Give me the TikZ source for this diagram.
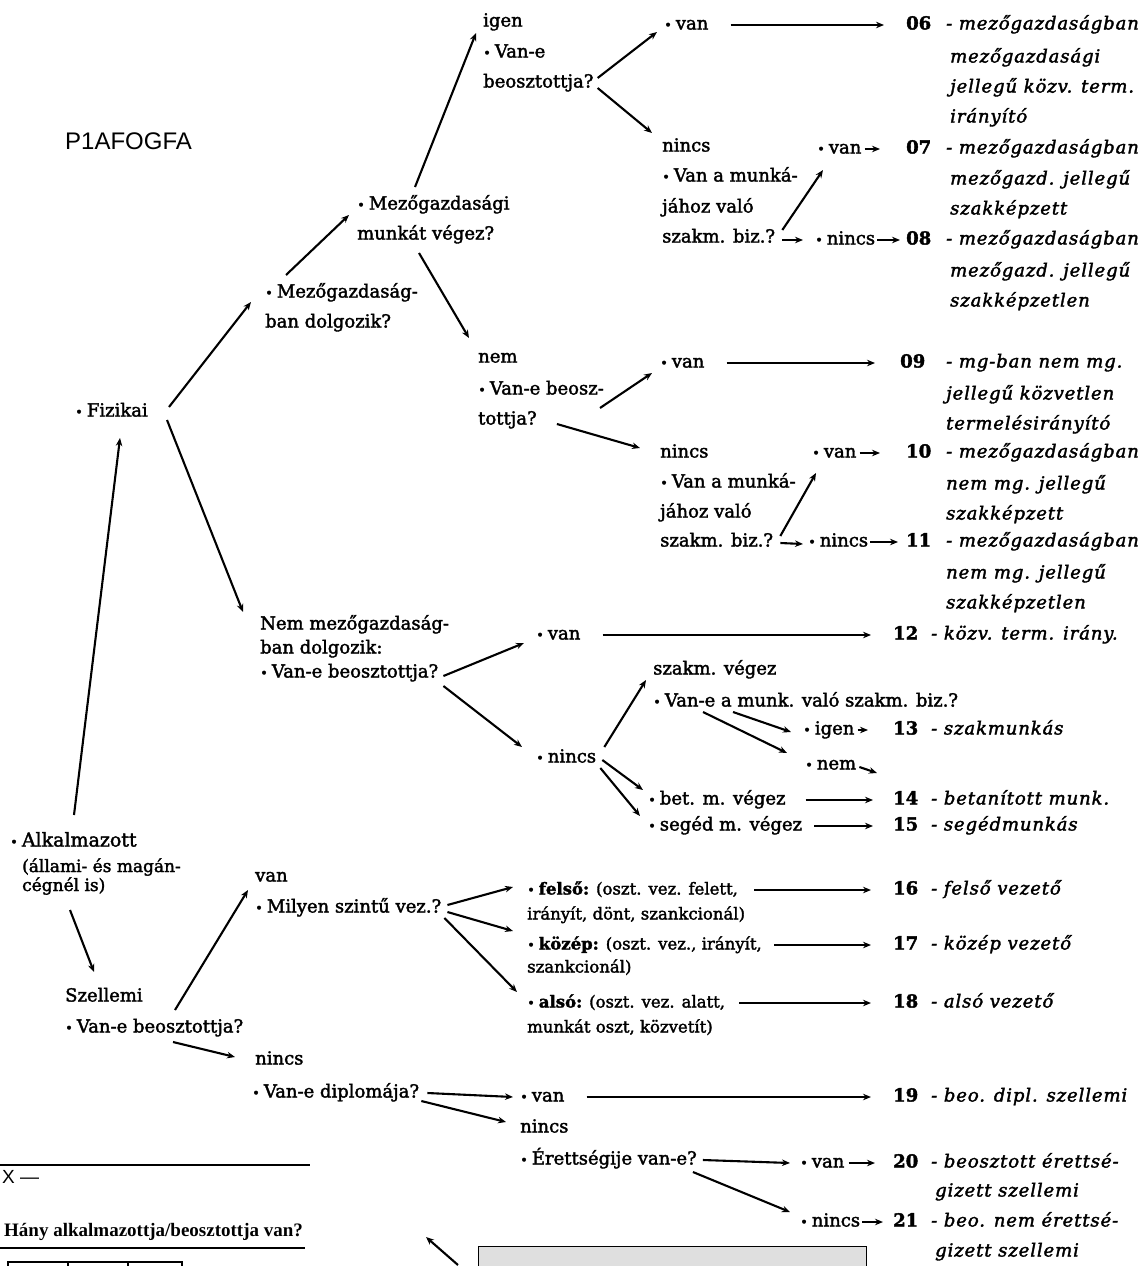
\documentclass[tikz,border=0pt]{standalone}
\usepackage{fontspec}
\setmainfont{DejaVu Serif}[FakeBold=2,ItalicFeatures={LetterSpace=5}]
\newfontfamily\sansf{Liberation Sans}
\newfontfamily\lserif{Liberation Serif}
\usetikzlibrary{arrows.meta}
\newcommand\mfont{\fontsize{18}{22}\selectfont}
\newcommand\bul{{\fontsize{13}{13}\selectfont •}\hspace{4pt}}
\begin{document}
\begin{tikzpicture}[x=1pt,y=-1pt,
  tx/.style={anchor=west,inner sep=0pt,text height=13pt,text depth=4pt,font=\mfont},
  sm/.style={tx,font=\fontsize{16.5}{20}\selectfont},
  par/.style={anchor=west,inner sep=0pt,text height=11pt,text depth=3pt,font=\fontsize{17}{18}\selectfont},
  num/.style={tx,font=\mfont\bfseries},
  dsc/.style={tx,font=\mfont\itshape},
  ar/.style={-{Stealth[length=8pt,width=6.5pt]},line width=2.1pt}]
\useasboundingbox (0,0) rectangle (1143,1266);

\node[tx,font=\sansf\fontsize{24}{24}\selectfont] (title) at (65,145) {P1AFOGFA};

% ---- top branch
\node[tx] (igen) at (483,22) {igen};
\node[tx] (vane1) at (483,53) {\bul Van-e};
\node[tx] (beo1) at (483,83) {beosztottja?};
\node[tx] (van06) at (664,25) {\bul van};
\node[num] (n06) at (906,25) {06};
\node[dsc] (d06a) at (946,25) {- mezőgazdaságban};
\node[dsc] (d06b) at (950,58) {mezőgazdasági};
\node[dsc] (d06c) at (950,88) {jellegű közv. term.};
\node[dsc] (d06d) at (950,118) {irányító};

\node[tx] (nincsA) at (662,147) {nincs};
\node[tx] (muA1) at (662,177) {\bul Van a munká-};
\node[tx] (muA2) at (662,208) {jához való};
\node[tx] (muA3) at (662,238) {szakm. biz.?};
\node[tx] (van07) at (817,149) {\bul van};
\node[num] (n07) at (906,149) {07};
\node[dsc] (d07a) at (946,149) {- mezőgazdaságban};
\node[dsc] (d07b) at (950,180) {mezőgazd. jellegű};
\node[dsc] (d07c) at (950,210) {szakképzett};
\node[tx] (nincs08) at (815,240) {\bul nincs};
\node[num] (n08) at (906,240) {08};
\node[dsc] (d08a) at (946,240) {- mezőgazdaságban};
\node[dsc] (d08b) at (950,272) {mezőgazd. jellegű};
\node[dsc] (d08c) at (950,302) {szakképzetlen};

\node[tx] (mezi1) at (357,205) {\bul Mezőgazdasági};
\node[tx] (mezi2) at (357,235) {munkát végez?};
\node[tx] (mezg1) at (265,293) {\bul Mezőgazdaság-};
\node[tx] (mezg2) at (265,323) {ban dolgozik?};
\node[tx] (fiz) at (75,412) {\bul Fizikai};

\node[tx] (nem) at (478,358) {nem};
\node[tx] (vbeosz) at (478,390) {\bul Van-e beosz-};
\node[tx] (tottja) at (478,420) {tottja?};
\node[tx] (van09) at (660,363) {\bul van};
\node[num] (n09) at (900,363) {09};
\node[dsc] (d09a) at (946,363) {- mg-ban nem mg.};
\node[dsc] (d09b) at (946,395) {jellegű közvetlen};
\node[dsc] (d09c) at (946,425) {termelésirányító};

\node[tx] (nincsB) at (660,453) {nincs};
\node[tx] (muB1) at (660,483) {\bul Van a munká-};
\node[tx] (muB2) at (660,513) {jához való};
\node[tx] (muB3) at (660,542) {szakm. biz.?};
\node[tx] (van10) at (812,453) {\bul van};
\node[num] (n10) at (906,453) {10};
\node[dsc] (d10a) at (946,453) {- mezőgazdaságban};
\node[dsc] (d10b) at (946,485) {nem mg. jellegű};
\node[dsc] (d10c) at (946,515) {szakképzett};
\node[tx] (nincs11) at (808,542) {\bul nincs};
\node[num] (n11) at (906,542) {11};
\node[dsc] (d11a) at (946,542) {- mezőgazdaságban};
\node[dsc] (d11b) at (946,574) {nem mg. jellegű};
\node[dsc] (d11c) at (946,604) {szakképzetlen};

% ---- non-agricultural
\node[tx] (nemmg1) at (260,625) {Nem mezőgazdaság-};
\node[tx] (nemmg2) at (260,649) {ban dolgozik:};
\node[tx] (nemmg3) at (260,673) {\bul Van-e beosztottja?};
\node[tx] (van12) at (536,635) {\bul van};
\node[num] (n12) at (893,635) {12};
\node[dsc] (d12) at (931,635) {- közv. term. irány.};
\node[tx] (szv) at (653,670) {szakm. végez};
\node[tx] (szbiz) at (653,702) {\bul Van-e a munk. való szakm. biz.?};
\node[tx] (igen13) at (803,730) {\bul igen};
\node[num] (n13) at (893,730) {13};
\node[dsc] (d13) at (931,730) {- szakmunkás};
\node[tx] (nem13) at (805,765) {\bul nem};
\node[tx] (nincsC) at (536,758) {\bul nincs};
\node[tx] (bet) at (648,800) {\bul bet. m. végez};
\node[num] (n14) at (893,800) {14};
\node[dsc] (d14) at (931,800) {- betanított munk.};
\node[tx] (seg) at (648,826) {\bul segéd m. végez};
\node[num] (n15) at (893,826) {15};
\node[dsc] (d15) at (931,826) {- segédmunkás};

% ---- employee / white collar
\node[tx,font=\fontsize{19}{22}\selectfont] (alk) at (10,842) {\bul Alkalmazott};
\node[par] (alk2) at (22,868) {(állami- és magán-};
\node[par] (alk3) at (22,887) {cégnél is)};
\node[tx] (szell) at (65,997) {Szellemi};
\node[tx] (szbeo) at (65,1028) {\bul Van-e beosztottja?};
\node[tx] (vanS) at (255,877) {van};
\node[tx] (milyen) at (255,908) {\bul Milyen szintű vez.?};
\node[sm] (felso1) at (527,890) {\bul\textbf{felső:} (oszt. vez. felett,};
\node[sm] (felso2) at (527,915) {irányít, dönt, szankcionál)};
\node[sm] (kozep1) at (527,945) {\bul\textbf{közép:} (oszt. vez., irányít,};
\node[sm] (kozep2) at (527,968) {szankcionál)};
\node[sm] (also1) at (527,1003) {\bul\textbf{alsó:} (oszt. vez. alatt,};
\node[sm] (also2) at (527,1028) {munkát oszt, közvetít)};
\node[num] (n16) at (893,890) {16};
\node[dsc] (d16) at (931,890) {- felső vezető};
\node[num] (n17) at (893,945) {17};
\node[dsc] (d17) at (931,945) {- közép vezető};
\node[num] (n18) at (893,1003) {18};
\node[dsc] (d18) at (931,1003) {- alsó vezető};

\node[tx] (nincsS) at (255,1060) {nincs};
\node[tx] (dipl) at (252,1093) {\bul Van-e diplomája?};
\node[tx] (van19) at (520,1097) {\bul van};
\node[num] (n19) at (893,1097) {19};
\node[dsc] (d19) at (931,1097) {- beo. dipl. szellemi};
\node[tx] (nincsD) at (520,1128) {nincs};
\node[tx] (erett) at (520,1160) {\bul Érettségije van-e?};
\node[tx] (van20) at (800,1163) {\bul van};
\node[num] (n20) at (893,1163) {20};
\node[dsc] (d20a) at (931,1163) {- beosztott érettsé-};
\node[dsc] (d20b) at (935,1192) {gizett szellemi};
\node[tx] (nincs21) at (800,1222) {\bul nincs};
\node[num] (n21) at (893,1222) {21};
\node[dsc] (d21a) at (931,1222) {- beo. nem érettsé-};
\node[dsc] (d21b) at (935,1252) {gizett szellemi};

% ---- bottom left
\draw[line width=1.4pt] (0,1165) -- (310,1165);
\node[tx,font=\sansf\fontsize{19}{19}\selectfont] (xx) at (2,1179) {X —};
\node[tx,font=\lserif\bfseries\fontsize{19}{19}\selectfont] (hany) at (4,1232) {Hány alkalmazottja/beosztottja van?};
\draw[line width=1.4pt] (0,1248) -- (305,1248);
\draw[line width=1.6pt] (8,1270) -- (8,1262) -- (182,1262) -- (182,1270);
\draw[line width=1.6pt] (68,1262) -- (68,1270) (128,1262) -- (128,1270);
\node[draw,line width=1.4pt,fill=gray!25,minimum width=388pt,minimum height=34pt,anchor=north west,inner sep=0pt] (shbox) at (478,1246) {};
\coordinate (ptr) at (426,1237);
\draw[ar] ([xshift=-20pt,yshift=-19pt]shbox.north west) -- (ptr);

% ---- connectors
\draw[ar] ([xshift=64pt,yshift=27pt]alk.west) -- ([xshift=45pt,yshift=-26pt]fiz.west);
\draw[ar] ([xshift=94pt,yshift=5pt]fiz.west) -- ([xshift=-14pt,yshift=-9pt]mezg1.west);
\draw[ar] ([xshift=92pt,yshift=-8pt]fiz.west) -- ([xshift=-17pt,yshift=13pt]nemmg1.west);
\draw[ar] ([xshift=21pt,yshift=18pt]mezg1.west) -- ([xshift=-8pt,yshift=-10pt]mezi1.west);
\draw[ar] ([xshift=58pt,yshift=18pt]mezi1.west) -- ([xshift=-7pt,yshift=-11pt]igen.west);
\draw[ar] ([xshift=62pt,yshift=-18pt]mezi2.west) -- ([xshift=-9pt,yshift=20pt]nem.west);
\draw[ar] ([xshift=4pt,yshift=5pt]beo1.east) -- ([xshift=-7pt,yshift=-7pt]van06.west);
\draw[ar] ([xshift=4pt,yshift=-5pt]beo1.east) -- ([xshift=-10pt,yshift=14pt]nincsA.west);
\draw[ar] ([xshift=22pt]van06.east) -- ([xshift=-22pt]n06.west);
\draw[ar] ([xshift=7pt,yshift=8pt]muA3.east) -- ([xshift=6pt,yshift=-21pt]van07.west);
\draw[ar] ([xshift=7pt,yshift=-2pt]muA3.east) -- ([xshift=-12pt]nincs08.west);
\draw[ar] ([xshift=3pt]van07.east) -- ([xshift=-26pt]n07.west);
\draw[ar] ([xshift=2pt]nincs08.east) -- ([xshift=-6pt]n08.west);
\draw[ar] ([xshift=-4pt,yshift=-18pt]vbeosz.east) -- ([xshift=-8pt,yshift=-10pt]van09.west);
\draw[ar] ([xshift=20pt,yshift=-4pt]tottja.east) -- ([xshift=-20pt,yshift=5pt]nincsB.west);
\draw[ar] ([xshift=22pt]van09.east) -- ([xshift=-25pt]n09.west);
\draw[ar] ([xshift=7pt,yshift=6pt]muB3.east) -- ([xshift=4pt,yshift=-20pt]van10.west);
\draw[ar] ([xshift=7pt,yshift=-1pt]muB3.east) -- ([xshift=-5pt,yshift=-2pt]nincs11.west);
\draw[ar] ([xshift=3pt]van10.east) -- ([xshift=-26pt]n10.west);
\draw[ar] ([xshift=2pt]nincs11.east) -- ([xshift=-8pt]n11.west);
\draw[ar] ([xshift=5pt,yshift=-3pt]nemmg3.east) -- ([xshift=-12pt,yshift=-8pt]van12.west);
\draw[ar] ([xshift=5pt,yshift=-13pt]nemmg3.east) -- ([xshift=-14pt,yshift=11pt]nincsC.west);
\draw[ar] ([xshift=22pt]van12.east) -- ([xshift=-22pt]n12.west);
\draw[ar] ([xshift=8pt,yshift=11pt]nincsC.east) -- ([xshift=-7pt,yshift=-10pt]szv.west);
\draw[ar] ([xshift=80pt,yshift=-10pt]szbiz.west) -- ([xshift=-12pt,yshift=-2pt]igen13.west);
\draw[ar] ([xshift=50pt,yshift=-10pt]szbiz.west) -- ([xshift=-18pt,yshift=12pt]nem13.west);
\draw[ar] ([xshift=3pt]igen13.east) -- ([xshift=-25pt]n13.west);
\draw[ar] ([xshift=3pt,yshift=-2pt]nem13.east) -- ([xshift=-16pt,yshift=27pt]n14.west);
\draw[ar] ([xshift=6pt,yshift=-2pt]nincsC.east) -- ([xshift=-5pt,yshift=10pt]bet.west);
\draw[ar] ([xshift=4pt,yshift=-10pt]nincsC.east) -- ([xshift=-8pt,yshift=10pt]seg.west);
\draw[ar] ([xshift=20pt]bet.east) -- ([xshift=-20pt]n14.west);
\draw[ar] ([xshift=12pt]seg.east) -- ([xshift=-20pt]n15.west);
\draw[ar] ([xshift=60pt,yshift=-68pt]alk.west) -- ([xshift=29pt,yshift=25pt]szell.west);
\draw[ar] ([xshift=110pt,yshift=18pt]szbeo.west) -- ([xshift=-7pt,yshift=-13pt]vanS.west);
\draw[ar] ([xshift=108pt,yshift=-14pt]szbeo.west) -- ([xshift=-20pt,yshift=3pt]nincsS.west);
\draw[ar] ([xshift=6pt,yshift=3pt]milyen.east) -- ([xshift=-14pt,yshift=3pt]felso1.west);
\draw[ar] ([xshift=6pt,yshift=-4pt]milyen.east) -- ([xshift=-14pt,yshift=14pt]kozep1.west);
\draw[ar] ([xshift=3pt,yshift=-10pt]milyen.east) -- ([xshift=-10pt,yshift=11pt]also1.west);
\draw[ar] ([xshift=16pt]felso1.east) -- ([xshift=-22pt]n16.west);
\draw[ar] ([xshift=12pt]kozep1.east) -- ([xshift=-22pt]n17.west);
\draw[ar] ([xshift=14pt]also1.east) -- ([xshift=-22pt]n18.west);
\draw[ar] ([xshift=8pt]dipl.east) -- ([xshift=-7pt]van19.west);
\draw[ar] ([xshift=2pt,yshift=-8pt]dipl.east) -- ([xshift=-14pt,yshift=6pt]nincsD.west);
\draw[ar] ([xshift=22pt]van19.east) -- ([xshift=-22pt]n19.west);
\draw[ar] ([xshift=6pt]erett.east) -- ([xshift=-10pt]van20.west);
\draw[ar] ([xshift=-4pt,yshift=-12pt]erett.east) -- ([xshift=-10pt,yshift=10pt]nincs21.west);
\draw[ar] ([xshift=4pt]van20.east) -- ([xshift=-18pt]n20.west);
\draw[ar] ([xshift=2pt]nincs21.east) -- ([xshift=-10pt]n21.west);
\end{tikzpicture}
\end{document}
